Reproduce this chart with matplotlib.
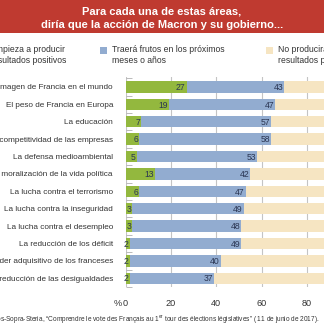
import matplotlib
matplotlib.use("Agg")
import matplotlib.pyplot as plt
from matplotlib.patches import Rectangle

plt.rcParams["font.family"] = ["Liberation Sans", "DejaVu Sans"]
plt.rcParams["mathtext.fontset"] = "custom"
plt.rcParams["mathtext.rm"] = "Liberation Sans"

categories = [
    "La imagen de Francia en el mundo",
    "El peso de Francia en Europa",
    "La educación",
    "La competitividad de las empresas",
    "La defensa medioambiental",
    "La moralización de la vida política",
    "La lucha contra el terrorismo",
    "La lucha contra la inseguridad",
    "La lucha contra el desempleo",
    "La reducción de los déficit",
    "El poder adquisitivo de los franceses",
    "La reducción de las desigualdades",
]
positivos = [27, 19, 7, 6, 5, 13, 6, 3, 3, 2, 2, 2]
futuro = [43, 47, 57, 58, 53, 42, 47, 49, 48, 49, 40, 37]
series_names = [
    "Empieza a producir\nresultados positivos",
    "Traerá frutos en los próximos\nmeses o años",
    "No producirá\nresultados positivos",
]
x_ticks = [0, 20, 40, 60, 80, 100]

GREEN = "#93b83e"
BLUE = "#92acd0"
BEIGE = "#f6e5c2"
RED = "#bf3a30"
TXT = "#333333"
NUM = "#2a3552"

W = H = 324
fig = plt.figure(figsize=(3.24, 3.24), dpi=100)
fig.patch.set_facecolor("white")

# title band
fig.patches.append(Rectangle((0, 1 - 33 / H), 1, 33 / H, transform=fig.transFigure,
                             facecolor=RED, edgecolor="none", zorder=0))
fig.text(0.5, 1 - 12 / H, "Para cada una de estas áreas,", ha="center", va="center",
         color="white", fontsize=8, fontweight="bold")
fig.text(0.5, 1 - 25 / H, "diría que la acción de Macron y su gobierno...", ha="center",
         va="center", color="white", fontsize=8, fontweight="bold")

# legend
leg_x = [-22, 100, 266]
for lx, name, col in zip(leg_x, series_names, [GREEN, BLUE, BEIGE]):
    fig.patches.append(Rectangle((lx / W, 1 - 54 / H), 7 / W, 7 / H, transform=fig.transFigure,
                                 facecolor=col, edgecolor="none"))
    fig.text((lx + 12) / W, 1 - 45 / H, name, ha="left", va="top", color=TXT,
             fontsize=6.2, linespacing=1.25)

ax = fig.add_axes([125.5 / W, 1 - 287 / H, 227 / W, 210.5 / H])
y = list(range(len(categories)))
resto = [100 - p - f for p, f in zip(positivos, futuro)]
left2 = [p + f for p, f in zip(positivos, futuro)]
h = 0.66
ax.barh(y, positivos, height=h, color=GREEN, zorder=2)
ax.barh(y, futuro, left=positivos, height=h, color=BLUE, zorder=2)
ax.barh(y, resto, left=left2, height=h, color=BEIGE, zorder=2)

for yi, p, f in zip(y, positivos, futuro):
    ax.text(p - 0.5, yi + 0.04, str(p), ha="right", va="center", fontsize=6.2, color=NUM, zorder=3)
    ax.text(p + f - 0.5, yi + 0.04, str(f), ha="right", va="center", fontsize=6.2, color=NUM, zorder=3)

ax.set_xlim(0, 100)
ax.set_ylim(11.5, -0.6)
for s in ax.spines.values():
    s.set_visible(False)
for xv in x_ticks:
    ax.axvline(xv, color="#c4c4c4", lw=0.8, zorder=1)

ax.set_yticks(y)
ax.set_yticklabels(categories, fontsize=5.9, color=TXT)
ax.tick_params(axis="y", which="major", length=0, pad=9)
ax.set_yticks([k + 0.5 for k in range(-1, 12)], minor=True)
ax.tick_params(axis="y", which="minor", direction="in", length=4, width=0.6, color="#b0b0b0")

ax.set_xticks(x_ticks)
ax.set_xticklabels([str(v) for v in x_ticks], fontsize=6.6, color=TXT)
ax.tick_params(axis="x", length=0, pad=9)
fig.text(118 / W, 1 - 303 / H, "%", ha="center", va="center", fontsize=6.6, color=TXT)

fig.text(319 / W, 1 - 320 / H,
         "Fuente: Ipsos-Sopra-Steria, “Comprendre le vote des Français au 1$^{\\mathrm{er}}$ tour "
         "des élections législatives” ( 11 de junio de 2017).",
         ha="right", va="center", fontsize=4.7, color=TXT)

fig.savefig("out.png", dpi=100, facecolor="white")
